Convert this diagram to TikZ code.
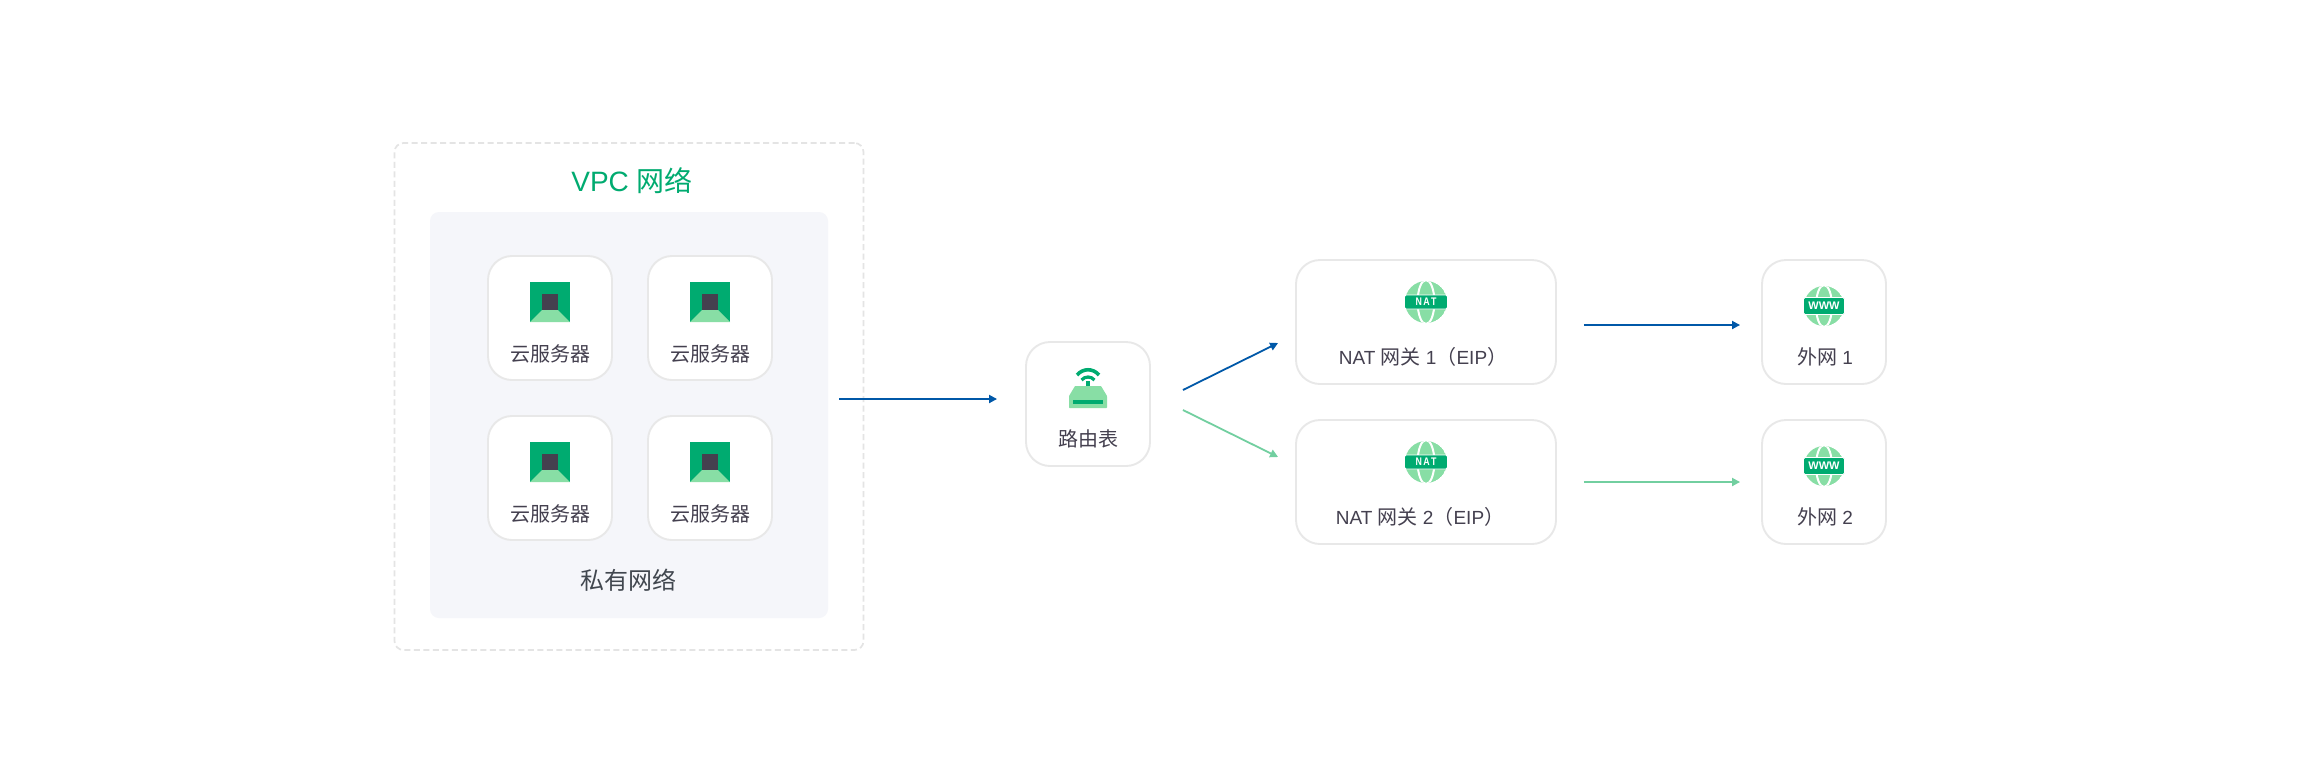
\documentclass[tikz,border=0pt]{standalone}
\usepackage{fontspec}
\setmainfont{Liberation Sans}
\newfontfamily\cjk{Noto Sans CJK SC}
\newcommand{\zh}[1]{{\fontsize{20}{24}\selectfont\cjk #1}}
\usetikzlibrary{arrows.meta}
\definecolor{cardline}{HTML}{E8E8E8}
\definecolor{dashline}{HTML}{E4E4E4}
\definecolor{panel}{HTML}{F5F6FA}
\definecolor{txt}{HTML}{44404F}
\definecolor{txtb}{HTML}{41474F}
\definecolor{gmain}{HTML}{00AB70}
\definecolor{glight}{HTML}{88DEA5}
\definecolor{arrblue}{HTML}{0058A8}
\definecolor{arrgreen}{HTML}{72CFA0}
\tikzset{
  card/.style={draw=cardline,line width=1.9pt,fill=white,rounded corners=24pt,inner sep=0pt,minimum height=124pt},
  small/.style={card,minimum width=124pt},
  wide/.style={card,minimum width=260pt},
  label/.style={text=txt,inner sep=0pt,font=\fontsize{19}{24}\selectfont},
  zhlabel/.style={text=txt,inner sep=0pt,font=\fontsize{20}{24}\selectfont\cjk},
  flowblue/.style={draw=arrblue,line width=1.8pt,-{Triangle[length=8pt,width=8pt]}},
  flowgreen/.style={draw=arrgreen,line width=1.8pt,-{Triangle[length=8pt,width=8pt]}},
  pics/server/.style={code={
    \fill[gmain] (-20,-20) rectangle (20,20);
    \fill[glight] (-20,20) -- (-8,8) -- (8,8) -- (20,20) -- cycle;
    \fill[txt] (-8,-8) rectangle (8,8);
  }},
  pics/globe/.style n args={4}{code={
    \begin{scope}
      \clip (0,0) circle (#2);
      \fill[glight] (0,0) circle (#2);
      \draw[white,line width=2pt] (0,0) ellipse ({#2*0.4} and {#2+1});
    \end{scope}
    \fill[gmain,draw=white,line width=0.8pt,rounded corners=1.5pt] (-#2-0.5,-#4) rectangle (#2+0.5,#4);
    \node[text=white,inner sep=0pt,font=\bfseries\fontsize{11}{11}\selectfont,xscale=#3] at (0,0) {#1};
  }},
  pics/routericon/.style={code={
    \fill[glight,rounded corners=0.6pt] (-13,-18) -- (13,-18) -- (19,-8) -- (19,4) -- (-19,4) -- (-19,-8) -- cycle;
    \fill[gmain] (-15,-4) rectangle (15,0);
    \fill[gmain] (-2,-23) rectangle (2,-18);
    \draw[gmain,line width=3.6pt] (-11,-29) .. controls (-5,-36) and (5,-36) .. (11,-29);
    \draw[gmain,line width=3.2pt] (-6.5,-24) .. controls (-3,-28) and (3,-28) .. (6.5,-24);
  }}
}
\begin{document}
\begin{tikzpicture}[x=1pt,y=-1pt]
\useasboundingbox (0,0) rectangle (2320,772);
\fill[white] (0,0) rectangle (2320,772);
\node[draw=dashline,line width=1.7pt,dash pattern=on 6pt off 3.5pt,rounded corners=9pt,minimum width=469pt,minimum height=507pt,inner sep=0pt] (vpc) at (629,396.5) {};
\node[fill=panel,rounded corners=9pt,minimum width=398pt,minimum height=406pt,inner sep=0pt] (private) at (629,415) {};
\node[inner sep=0pt,text=gmain,font=\fontsize{28}{32}\selectfont] (vpctitle) at (632,180.5) {VPC {\cjk 网络}};
\node[inner sep=0pt,text=txtb,font=\fontsize{24}{28}\selectfont\cjk] (privtitle) at (628,580) {私有网络};

\node[small] (s1) at (550,318) {};
\node[small] (s2) at (710,318) {};
\node[small] (s3) at (550,478) {};
\node[small] (s4) at (710,478) {};
\pic at (550,302) {server};
\pic at (710,302) {server};
\pic at (550,462) {server};
\pic at (710,462) {server};
\node[zhlabel] (t1) at (550,354) {云服务器};
\node[zhlabel] (t2) at (710,354) {云服务器};
\node[zhlabel] (t3) at (550,514) {云服务器};
\node[zhlabel] (t4) at (710,514) {云服务器};

\node[small] (router) at (1088,404) {};
\pic at (1088,404) {routericon};
\node[zhlabel] (trouter) at (1088,439) {路由表};

\node[wide] (nat1) at (1426,322) {};
\node[wide] (nat2) at (1426,482) {};
\pic at (1426,302) {globe={N\,A\,T}{21}{0.8}{7}};
\pic at (1426,462) {globe={N\,A\,T}{21}{0.8}{7}};
\node[label] (tn1) at (1423,357) {NAT \zh{网关} 1\zh{（}EIP\zh{）}};
\node[label] (tn2) at (1420,517) {NAT \zh{网关} 2\zh{（}EIP\zh{）}};

\node[small] (w1) at (1824,322) {};
\node[small] (w2) at (1824,482) {};
\pic at (1824,306) {globe={WWW}{20}{1}{8.5}};
\pic at (1824,466) {globe={WWW}{20}{1}{8.5}};
\node[label] (tw1) at (1825,357) {\zh{外网} 1};
\node[label] (tw2) at (1825,517) {\zh{外网} 2};

\draw[flowblue] ([xshift=11pt,yshift=16pt]private.east) -- ([xshift=-28pt,yshift=5pt]router.west);
\draw[flowblue] ([xshift=32pt,yshift=14pt]router.east) -- ([xshift=-17pt,yshift=-21pt]nat1.west);
\draw[flowgreen] ([xshift=32pt,yshift=-6pt]router.east) -- ([xshift=-17pt,yshift=25pt]nat2.west);
\draw[flowblue] ([xshift=27pt,yshift=-3pt]nat1.east) -- ([xshift=-21pt,yshift=-3pt]w1.west);
\draw[flowgreen] ([xshift=27pt]nat2.east) -- ([xshift=-21pt]w2.west);
\end{tikzpicture}
\end{document}
